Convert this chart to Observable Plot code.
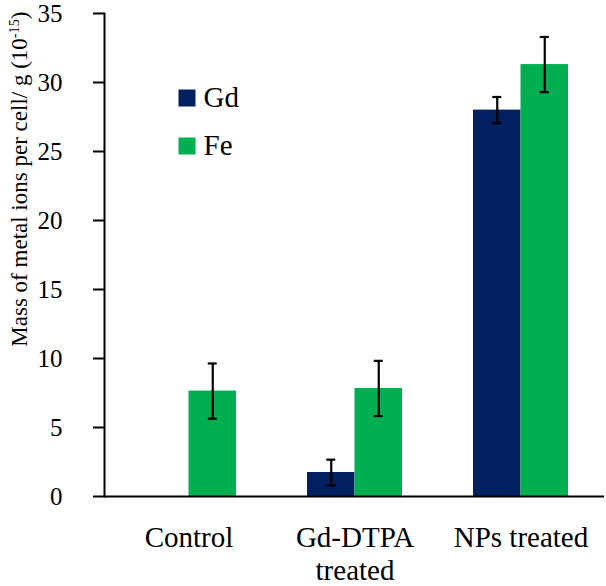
<!DOCTYPE html>
<html><head><meta charset="utf-8">
<script src="https://cdn.jsdelivr.net/npm/d3@7"></script>
<script src="https://cdn.jsdelivr.net/npm/@observablehq/plot@0.6"></script>
<style>body{margin:0;background:#fff;} #chart svg{display:block;}</style>
</head><body><div id="chart"></div>
<script>
const groups = ["Control", "Gd-DTPA treated", "NPs treated"];
const groupLabels = ["Control", "Gd-DTPA\ntreated", "NPs treated"];
const series = ["Gd", "Fe"];
const seriesColors = ["#002060", "#00B050"];
const gdValues = [0, 1.74, 28.0];
const gdErrors = [0, 0.93, 0.95];
const feValues = [7.64, 7.83, 31.3];
const feErrors = [2.0, 2.0, 2.0];
const yTicks = [0, 5, 10, 15, 20, 25, 30, 35];
const yLabel = "Mass of metal ions per cell/ g (10-15)";

const rows = groups.flatMap((g, i) => [
  {group: g, series: "Gd", value: gdValues[i], err: gdErrors[i]},
  {group: g, series: "Fe", value: feValues[i], err: feErrors[i]}
]);
const gd = rows.filter(d => d.series === "Gd");
const fe = rows.filter(d => d.series === "Fe");
const gdErr = gd.filter(d => d.err > 0);
const feErr = fe.filter(d => d.err > 0);

const W = 606, H = 586, ML = 104, MR = 2, MT = 13, MB = 90;
const pIn = 0.43, pOut = 0.215;
const step = (W - ML - MR) / (groups.length - pIn + 2 * pOut);
const bw = step * (1 - pIn);
const capHalf = 4.5;
const ew = 2.2;

const chart = Plot.plot({
  width: W, height: H,
  marginLeft: ML, marginRight: MR, marginTop: MT, marginBottom: MB,
  style: {fontFamily: "Liberation Serif", background: "#fff", color: "#000"},
  x: {domain: groups, paddingInner: pIn, paddingOuter: pOut},
  y: {domain: [0, 35]},
  color: {domain: series, range: seriesColors},
  marks: [
    Plot.barY(gd, {x: "group", y: "value", fill: "series", insetRight: bw / 2, insetLeft: 0}),
    Plot.barY(fe, {x: "group", y: "value", fill: "series", insetLeft: bw / 2, insetRight: 0}),
    Plot.ruleX(gdErr, {x: "group", y1: d => d.value - d.err, y2: d => d.value + d.err, dx: -bw / 4, strokeWidth: ew}),
    Plot.ruleX(feErr, {x: "group", y1: d => d.value - d.err, y2: d => d.value + d.err, dx: bw / 4, strokeWidth: ew}),
    Plot.tickY(gdErr, {x: "group", y: d => d.value + d.err, insetLeft: bw / 4 - capHalf, insetRight: 3 * bw / 4 - capHalf, strokeWidth: ew}),
    Plot.tickY(gdErr, {x: "group", y: d => d.value - d.err, insetLeft: bw / 4 - capHalf, insetRight: 3 * bw / 4 - capHalf, strokeWidth: ew}),
    Plot.tickY(feErr, {x: "group", y: d => d.value + d.err, insetLeft: 3 * bw / 4 - capHalf, insetRight: bw / 4 - capHalf, strokeWidth: ew}),
    Plot.tickY(feErr, {x: "group", y: d => d.value - d.err, insetLeft: 3 * bw / 4 - capHalf, insetRight: bw / 4 - capHalf, strokeWidth: ew}),
    Plot.ruleY([0], {strokeWidth: 2}),
    Plot.frame({anchor: "left", strokeWidth: 2}),
    Plot.axisY({ticks: yTicks, tickSize: 11, tickPadding: 31, fontSize: 25, strokeWidth: 2, label: null}),
    Plot.axisX({tickSize: 0, tickPadding: 27, fontSize: 29, lineHeight: 1.13, tickFormat: g => groupLabels[groups.indexOf(g)], label: null}),
    Plot.dot([series[0]], {frameAnchor: "top-left", dx: 82.5, dy: 84.5, symbol: "square", r: 9.6, fill: d => d}),
    Plot.dot([series[1]], {frameAnchor: "top-left", dx: 82.5, dy: 132.5, symbol: "square", r: 9.6, fill: d => d}),
    Plot.text([series[0]], {frameAnchor: "top-left", dx: 99, dy: 84, text: d => d, textAnchor: "start", lineAnchor: "middle", fontSize: 29}),
    Plot.text([series[1]], {frameAnchor: "top-left", dx: 99, dy: 132, text: d => d, textAnchor: "start", lineAnchor: "middle", fontSize: 29}),
    Plot.text([yLabel], {frameAnchor: "top-left", rotate: -90, textAnchor: "end", lineAnchor: "middle", dx: -85, dy: -2, fontSize: 23, text: d => d})
  ]
});
document.getElementById("chart").appendChild(chart);
// superscript exponent in the y label
chart.querySelectorAll("text").forEach(t => {
  if (t.textContent === yLabel) {
    t.innerHTML = 'Mass of metal ions per cell/ g (10<tspan baseline-shift="super" font-size="0.62em">-15</tspan>)';
  }
});
</script>
</body></html>
